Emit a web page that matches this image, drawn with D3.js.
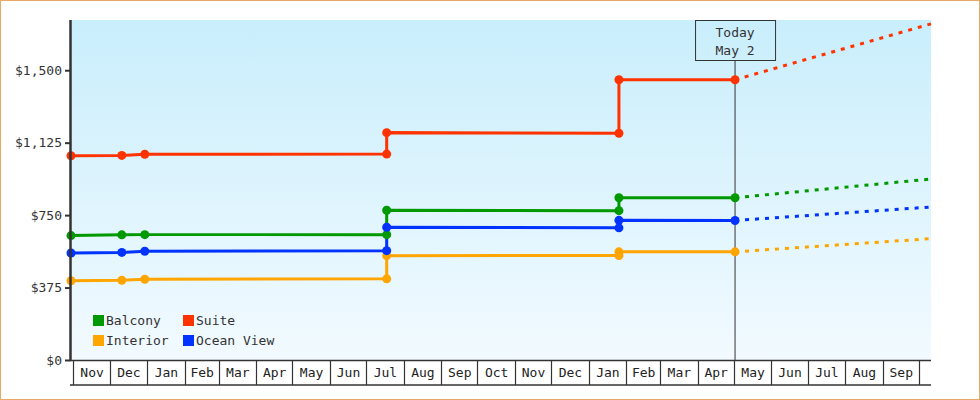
<!DOCTYPE html>
<html>
<head>
<meta charset="utf-8">
<script src="https://cdn.jsdelivr.net/npm/d3@7"></script>
<style>
    html, body { margin: 0; padding: 0; background: #fff; }
    #chart { width: 980px; height: 400px; }
    text { font-family: "DejaVu Sans Mono", monospace; font-size: 13px; }
</style>
</head>
<body>
<div id="chart"></div>
<script>
// price observation dates (two points on the same day = price change)
const dates = ['2016-10-30', '2016-12-11', '2016-12-30', '2017-07-18', '2017-07-18', '2018-01-26', '2018-01-26', '2018-05-02']
const today = '2018-05-02'
const forecastEnd = '2018-10-11'

const cabins = ['Balcony', 'Suite', 'Interior', 'Ocean View']
const colors = ['#009900', '#ff3300', '#ffa500', '#0033ff']

const balcony = [644, 648, 649, 649, 775, 773, 840, 840]
const suite = [1057, 1059, 1065, 1066, 1177, 1174, 1451, 1451]
const interior = [410, 413, 418, 420, 540, 541, 560, 560]
const oceanView = [554, 557, 563, 566, 687, 684, 723, 722]

// forecast value at forecastEnd
const forecast = [937, 1740, 628, 792]

const yTicks = [0, 375, 750, 1125, 1500]
const yMax = 1760

;(() => {
    const parse = d3.timeParse('%Y-%m-%d')
    const series = [balcony, suite, interior, oceanView].map((vals, i) => ({
        name: cabins[i],
        color: colors[i],
        points: vals.map((v, j) => ({ date: parse(dates[j]), value: v })),
        forecast: forecast[i]
    }))

    const margin = { left: 71, right: 49, top: 20, bottom: 40 }
    const svgWidth = 980
    const svgHeight = 400
    const width = svgWidth - margin.left - margin.right
    const height = svgHeight - margin.top - margin.bottom

    const root = d3.select('#chart')
        .append('svg')
        .attr('width', svgWidth)
        .attr('height', svgHeight)

    // orange frame
    root.append('rect')
        .attr('x', 0.5).attr('y', 0.5)
        .attr('width', svgWidth - 1).attr('height', svgHeight - 1)
        .attr('fill', 'none')
        .attr('stroke', '#e6aa66')

    const defs = root.append('defs')
    const grad = defs.append('linearGradient')
        .attr('id', 'bg')
        .attr('x1', 0).attr('y1', 0).attr('x2', 0).attr('y2', 1)
    grad.append('stop').attr('offset', '0%').attr('stop-color', '#c9eefc')
    grad.append('stop').attr('offset', '100%').attr('stop-color', '#f2faff')

    const svg = root.append('g')
        .attr('transform', `translate(${margin.left},${margin.top})`)

    ////////////////////////////////////
    //////////////scales////////////////
    ////////////////////////////////////
    const xScale = d3.scaleTime()
        .domain([parse(dates[0]), parse(forecastEnd)])
        .range([0, width])

    const yScale = d3.scaleLinear()
        .domain([0, yMax])
        .range([height, 0])

    svg.append('rect')
        .attr('width', width)
        .attr('height', height)
        .attr('fill', 'url(#bg)')

    ////////////////////////////////////
    ///////////// today ////////////////
    ////////////////////////////////////
    const tx = xScale(parse(today))
    const boxW = 80, boxH = 40

    svg.append('line')
        .attr('x1', tx).attr('x2', tx)
        .attr('y1', boxH).attr('y2', height)
        .attr('stroke', '#333')
        .attr('stroke-width', 1)

    const box = svg.append('g').attr('transform', `translate(${tx - boxW / 2},0)`)
    box.append('rect')
        .attr('x', 0.5).attr('y', 0.5)
        .attr('width', boxW).attr('height', boxH)
        .attr('fill', 'none')
        .attr('stroke', '#333')
    box.append('text')
        .attr('x', boxW / 2).attr('y', 17)
        .attr('text-anchor', 'middle')
        .attr('fill', '#333')
        .text('Today')
    box.append('text')
        .attr('x', boxW / 2).attr('y', 35)
        .attr('text-anchor', 'middle')
        .attr('fill', '#333')
        .text(d3.timeFormat('%b %-d')(parse(today)))

    ////////////////////////////////////
    /////////// data lines /////////////
    ////////////////////////////////////
    const line = d3.line()
        .x(d => xScale(d.date))
        .y(d => yScale(d.value))

    svg.selectAll('.forecast')
        .data(series)
        .join('path')
        .attr('class', 'forecast')
        .attr('fill', 'none')
        .attr('stroke', d => d.color)
        .attr('stroke-width', 3)
        .attr('stroke-dasharray', '4,6')
        .attr('d', d => line([d.points[d.points.length - 1], { date: parse(forecastEnd), value: d.forecast }]))

    svg.selectAll('.price')
        .data(series)
        .join('path')
        .attr('class', 'price')
        .attr('fill', 'none')
        .attr('stroke', d => d.color)
        .attr('stroke-width', 3)
        .attr('d', d => line(d.points))

    svg.selectAll('.dots')
        .data(series)
        .join('g')
        .attr('class', 'dots')
        .attr('fill', d => d.color)
        .selectAll('circle')
        .data(d => d.points)
        .join('circle')
        .attr('r', 4.5)
        .attr('cx', d => xScale(d.date))
        .attr('cy', d => yScale(d.value))

    ////////////////////////////////////
    ///////////// axis /////////////////
    ////////////////////////////////////
    const yAxis = svg.append('g')
        .call(d3.axisLeft(yScale).tickValues(yTicks).tickSize(6).tickFormat(d3.format('$,')))
    yAxis.select('.domain').remove()
    yAxis.selectAll('.tick line').attr('stroke', '#333').attr('stroke-width', 2)
    yAxis.selectAll('.tick text').attr('fill', '#333').attr('x', -9).style('font-size', '13px')
    yAxis.append('line')
        .attr('x1', -0.5).attr('x2', -0.5)
        .attr('y1', 0).attr('y2', height + 1)
        .attr('stroke', '#333')
        .attr('stroke-width', 2.5)

    // month boxes
    const months = d3.timeMonth.range(d3.timeMonth.ceil(xScale.domain()[0]), xScale.domain()[1])
    const band = 25
    const xAxis = svg.append('g')
        .attr('transform', `translate(0,${height})`)

    xAxis.append('line')
        .attr('x1', 0).attr('x2', width)
        .attr('y1', 0.5).attr('y2', 0.5)
        .attr('stroke', '#333').attr('stroke-width', 1.5)
    xAxis.append('line')
        .attr('x1', -1).attr('x2', width)
        .attr('y1', band).attr('y2', band)
        .attr('stroke', '#333').attr('stroke-width', 1.5)

    xAxis.selectAll('.sep')
        .data(months)
        .join('line')
        .attr('class', 'sep')
        .attr('x1', d => Math.round(xScale(d)) + 0.5)
        .attr('x2', d => Math.round(xScale(d)) + 0.5)
        .attr('y1', 0).attr('y2', band)
        .attr('stroke', '#333')
        .attr('stroke-width', 1.2)

    xAxis.selectAll('.month')
        .data(months.filter(d => d3.timeMonth.offset(d, 1) <= xScale.domain()[1]))
        .join('text')
        .attr('class', 'month')
        .attr('x', d => (xScale(d) + xScale(d3.timeMonth.offset(d, 1))) / 2 + 0.5)
        .attr('y', 17)
        .attr('text-anchor', 'middle')
        .attr('fill', '#222')
        .text(d => d3.timeFormat('%b')(d))

    ////////////////////////////////////
    ///////////// legend ///////////////
    ////////////////////////////////////
    const legend = svg.append('g')
        .attr('transform', `translate(${93 - margin.left},${315 - margin.top})`)

    const items = legend.selectAll('.item')
        .data(series)
        .join('g')
        .attr('class', 'item')
        .attr('transform', (d, i) => `translate(${(i % 2) * 90},${Math.floor(i / 2) * 20})`)

    items.append('rect')
        .attr('width', 11).attr('height', 11)
        .attr('fill', d => d.color)
    items.append('text')
        .attr('x', 13).attr('y', 10)
        .attr('fill', '#333')
        .text(d => d.name)
})()
</script>
</body>
</html>
